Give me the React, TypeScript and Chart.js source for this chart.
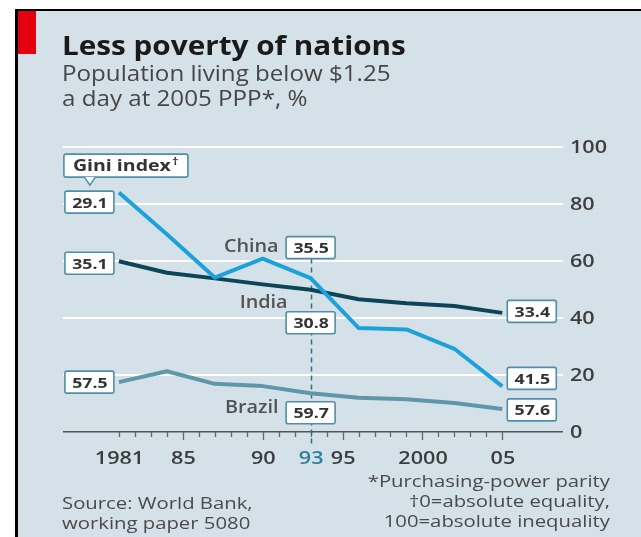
import React, { useEffect, useRef } from "react";
import { Chart, registerables } from "chart.js";

Chart.register(...registerables);

// ---- data ----
const YEARS = [1981, 1984, 1987, 1990, 1993, 1996, 1999, 2002, 2005];
const CHINA = [84.0, 69.4, 54.2, 60.8, 54.0, 36.5, 36.0, 29.2, 16.0];
const INDIA = [59.9, 55.9, 53.9, 51.8, 49.9, 46.6, 45.2, 44.2, 41.8];
const BRAZIL = [17.5, 21.3, 16.9, 16.1, 13.6, 12.0, 11.5, 10.2, 8.1];
const SERIES_NAMES = ["China", "India", "Brazil"];
const GINI_START = ["29.1", "35.1", "57.5"];
const GINI_MID = ["35.5", "30.8", "59.7"];
const GINI_END = ["41.5", "33.4", "57.6"];
const MID_YEAR = 1993;
const X_TICK_YEARS = [1981, 1985, 1990, 1993, 1995, 2000, 2005];
const X_TICK_LABELS = ["1981", "85", "90", "93", "95", "2000", "05"];
const MAJOR_TICK_YEARS = [1985, 1990, 1995, 2000, 2005];
const Y_TICKS = [0, 20, 40, 60, 80, 100];
const Y_TICK_LABELS = ["0", "20", "40", "60", "80", "100"];

// ---- style ----
const BG = "#d5e1e9";
const FONT = "'Open Sans', 'Noto Sans', sans-serif";
const BOX_BORDER = "#4f8fa6";
const SX = 1.2; // horizontal stretch of the reference lettering
const SERIES_STYLE = [
  { color: "#1ca2db", startDy: 9.5, midDy: -30.5, endDy: -8, nameDx: -32, nameDy: -26 },
  { color: "#0c4558", startDy: 2, midDy: 33, endDy: -1.5, nameDx: -23, nameDy: 18 },
  { color: "#5f97a8", startDy: 0, midDy: 19.5, endDy: 1, nameDx: -32, nameDy: 20 },
];

function text(
  ctx: CanvasRenderingContext2D,
  s: string,
  x: number,
  y: number,
  align: CanvasTextAlign,
  sx: number = SX
) {
  ctx.save();
  ctx.translate(x, y);
  ctx.scale(sx, 1);
  ctx.textAlign = align;
  ctx.fillText(s, 0, 0);
  ctx.restore();
}

function drawBox(ctx: CanvasRenderingContext2D, cx: number, cy: number, label: string) {
  const w = 49, h = 22;
  const x = cx - w / 2, y = cy - h / 2;
  ctx.save();
  ctx.fillStyle = "#fff";
  ctx.strokeStyle = BOX_BORDER;
  ctx.lineWidth = 1.6;
  ctx.beginPath();
  (ctx as any).roundRect ? (ctx as any).roundRect(x, y, w, h, 2) : ctx.rect(x, y, w, h);
  ctx.fill();
  ctx.stroke();
  ctx.fillStyle = "#333";
  ctx.font = `bold 15px ${FONT}`;
  ctx.textBaseline = "alphabetic";
  text(ctx, label, cx + 0.5, cy + 5.5, "center", 1.18);
  ctx.restore();
}

const annotations = {
  id: "annotations",
  beforeDatasetsDraw(chart: any) {
    const { ctx, scales } = chart;
    const xs = scales.x, ys = scales.y;
    const y0 = ys.getPixelForValue(0);
    ctx.save();
    ctx.strokeStyle = "#666";
    ctx.lineWidth = 1.3;
    for (let yr = YEARS[0]; yr <= YEARS[YEARS.length - 1]; yr++) {
      const x = Math.round(xs.getPixelForValue(yr)) + 0.5;
      const len = MAJOR_TICK_YEARS.includes(yr) ? 8 : 5;
      ctx.beginPath();
      ctx.moveTo(x, y0);
      ctx.lineTo(x, y0 + len);
      ctx.stroke();
    }
    const mx = Math.round(xs.getPixelForValue(MID_YEAR)) + 0.5;
    const topY = ys.getPixelForValue(CHINA[YEARS.indexOf(MID_YEAR)]) + SERIES_STYLE[0].midDy + 11;
    ctx.strokeStyle = "#2f6f85";
    ctx.lineWidth = 1.5;
    ctx.setLineDash([5, 4]);
    ctx.beginPath();
    ctx.moveTo(mx, topY);
    ctx.lineTo(mx, y0 + 12);
    ctx.stroke();
    ctx.setLineDash([]);
    ctx.font = `600 18px ${FONT}`;
    ctx.textBaseline = "alphabetic";
    X_TICK_YEARS.forEach((yr, i) => {
      ctx.fillStyle = yr === MID_YEAR ? "#2e7f9d" : "#3d3d3d";
      text(ctx, X_TICK_LABELS[i], xs.getPixelForValue(yr) + 0.6, y0 + 32, "center");
    });
    ctx.textBaseline = "middle";
    ctx.fillStyle = "#3d3d3d";
    Y_TICKS.forEach((v, i) => {
      text(ctx, Y_TICK_LABELS[i], chart.chartArea.right + 7, ys.getPixelForValue(v) + 1, "left");
    });
    ctx.restore();
  },
  afterDatasetsDraw(chart: any) {
    const { ctx, scales } = chart;
    const xs = scales.x, ys = scales.y;
    const series = [CHINA, INDIA, BRAZIL];
    const first = YEARS[0], last = YEARS[YEARS.length - 1];
    const midIdx = YEARS.indexOf(MID_YEAR);
    series.forEach((vals, s) => {
      const st = SERIES_STYLE[s];
      const xStart = xs.getPixelForValue(first) - 5 - 24.5;
      const xEnd = xs.getPixelForValue(last) + 5 + 24.5;
      drawBox(ctx, xStart, ys.getPixelForValue(vals[0]) + st.startDy, GINI_START[s]);
      drawBox(ctx, xs.getPixelForValue(MID_YEAR), ys.getPixelForValue(vals[midIdx]) + st.midDy, GINI_MID[s]);
      drawBox(ctx, xEnd, ys.getPixelForValue(vals[vals.length - 1]) + st.endDy, GINI_END[s]);
      ctx.save();
      ctx.font = `600 18px ${FONT}`;
      ctx.fillStyle = "#525252";
      ctx.textBaseline = "alphabetic";
      text(
        ctx,
        SERIES_NAMES[s],
        xs.getPixelForValue(MID_YEAR) + st.nameDx,
        ys.getPixelForValue(vals[midIdx]) + st.nameDy,
        "right",
        1.1
      );
      ctx.restore();
    });
    // Gini index callout
    const boxTop = ys.getPixelForValue(CHINA[0]) + SERIES_STYLE[0].startDy - 11;
    const bx = xs.getPixelForValue(first) - 5 - 49;
    const gx = bx - 1, gw = 124, gh = 23, gy = boxTop - 14 - gh;
    ctx.save();
    ctx.fillStyle = "#fff";
    ctx.strokeStyle = BOX_BORDER;
    ctx.lineWidth = 1.6;
    ctx.beginPath();
    (ctx as any).roundRect ? (ctx as any).roundRect(gx, gy, gw, gh, 2) : ctx.rect(gx, gy, gw, gh);
    ctx.fill();
    ctx.stroke();
    const tx = bx + 25;
    ctx.beginPath();
    ctx.moveTo(tx - 5.5, gy + gh);
    ctx.lineTo(tx, gy + gh + 8);
    ctx.lineTo(tx + 5.5, gy + gh);
    ctx.closePath();
    ctx.fill();
    ctx.beginPath();
    ctx.moveTo(tx - 5.5, gy + gh);
    ctx.lineTo(tx, gy + gh + 8);
    ctx.lineTo(tx + 5.5, gy + gh);
    ctx.stroke();
    ctx.fillStyle = "#333";
    ctx.font = `bold 16px ${FONT}`;
    ctx.textBaseline = "alphabetic";
    const label = "Gini index";
    text(ctx, label, gx + 9, gy + 17, "left", 1.22);
    const w = ctx.measureText(label).width * 1.22;
    ctx.font = `bold 11px ${FONT}`;
    text(ctx, "\u2020", gx + 9 + w + 1.5, gy + 11, "left", 1.1);
    ctx.restore();
  },
};

export default function App() {
  const ref = useRef<HTMLCanvasElement>(null);
  useEffect(() => {
    const mk = (vals: number[]) => YEARS.map((y, i) => ({ x: y, y: vals[i] }));
    const chart = new Chart(ref.current as HTMLCanvasElement, {
      type: "line",
      data: {
        datasets: [CHINA, INDIA, BRAZIL].map((vals, i) => ({
          label: SERIES_NAMES[i],
          data: mk(vals),
          borderColor: SERIES_STYLE[i].color,
          backgroundColor: SERIES_STYLE[i].color,
          borderWidth: 4,
          pointRadius: 0,
          tension: 0,
          borderJoinStyle: "round" as const,
          order: i,
        })),
      },
      options: {
        animation: false,
        responsive: false,
        devicePixelRatio: 1,
        layout: { padding: { left: 63, top: 147, right: 0, bottom: 105 } },
        plugins: { legend: { display: false }, tooltip: { enabled: false }, title: { display: false } },
        events: [],
        scales: {
          x: { type: "linear", min: 1977.5, max: 2008.8, display: false },
          y: {
            position: "right",
            min: 0,
            max: 100,
            afterFit: (s: any) => {
              s.width = 78;
            },
            afterBuildTicks: (s: any) => {
              s.ticks = Y_TICKS.map((v) => ({ value: v }));
            },
            ticks: { display: false },
            grid: {
              drawTicks: false,
              color: (c: any) => (c.tick && c.tick.value === 0 ? "#555" : "#ffffff"),
              lineWidth: (c: any) => (c.tick && c.tick.value === 0 ? 1.5 : 2),
            },
            border: { display: false },
          },
        },
      },
      plugins: [annotations],
    } as any);
    return () => chart.destroy();
  }, []);

  const abs = (s: React.CSSProperties): React.CSSProperties => ({ position: "absolute", margin: 0, ...s });
  return (
    <div
      style={{
        position: "fixed",
        left: 0,
        top: 0,
        width: 641,
        height: 537,
        background: "#fff",
        overflow: "hidden",
        fontFamily: FONT,
      }}
    >
      <div
        style={abs({
          left: 15,
          top: 9,
          width: 700,
          height: 600,
          borderTop: "2px solid #000",
          borderLeft: "3px solid #000",
          background: BG,
        })}
      />
      <div style={abs({ left: 18, top: 11, width: 18, height: 43, background: "#e3000f" })} />
      <canvas ref={ref} width={641} height={537} style={abs({ left: 0, top: 0, width: 641, height: 537 })} />
      <div
        style={abs({
          left: 62,
          top: 31,
          fontSize: 27,
          lineHeight: "27px",
          fontWeight: 700,
          color: "#1a1a1a",
          whiteSpace: "nowrap",
          transform: "scaleX(1.1)",
          transformOrigin: "left top",
        })}
      >
        Less poverty of nations
      </div>
      <div
        style={abs({
          left: 62,
          top: 60.5,
          fontSize: 21,
          lineHeight: "25px",
          fontWeight: 500,
          color: "#464646",
          whiteSpace: "nowrap",
          transform: "scaleX(1.15)",
          transformOrigin: "left top",
        })}
      >
        Population living below $1.25
        <br />a day at 2005 PPP*, %
      </div>
      <div
        style={abs({
          left: 62,
          top: 492.5,
          fontSize: 16.5,
          lineHeight: "20.5px",
          color: "#4a4a4a",
          whiteSpace: "nowrap",
          transform: "scaleX(1.23)",
          transformOrigin: "left top",
        })}
      >
        Source: World Bank,
        <br />
        working paper 5080
      </div>
      <div
        style={abs({
          right: 31,
          top: 470.5,
          fontSize: 16.5,
          lineHeight: "20.3px",
          color: "#4a4a4a",
          textAlign: "right",
          whiteSpace: "nowrap",
          transform: "scaleX(1.23)",
          transformOrigin: "right top",
        })}
      >
        *Purchasing-power parity
        <br />
        †0=absolute equality,
        <br />
        100=absolute inequality
      </div>
    </div>
  );
}
